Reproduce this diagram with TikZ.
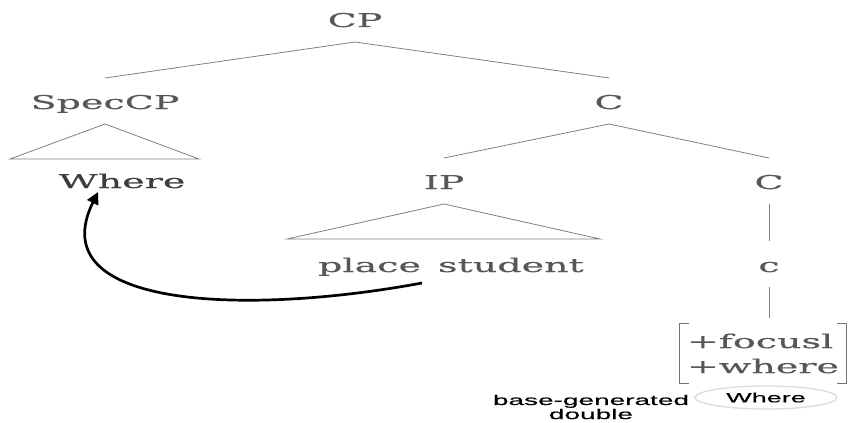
\documentclass[tikz,border=0pt]{standalone}
\usepackage{fontspec}
\setmainfont{DejaVu Serif}
\newfontfamily\treefont[FakeStretch=2.0,FakeBold=0.4]{DejaVu Serif}
\newfontfamily\notefont[FakeStretch=2.0,FakeBold=0.3]{Liberation Sans}
\usetikzlibrary{arrows.meta,shapes.geometric}

\providecommand{\colorLabel}{black!66}
\providecommand{\colorWord}{black!76}
\providecommand{\colorBranch}{black!50}
\providecommand{\colorRing}{black!14}
\providecommand{\branchthickness}{0.8pt}
\providecommand{\arrowthickness}{2.7pt}

\begin{document}
\begin{tikzpicture}[
    x=1pt, y=-1pt,
    % Label styles
    label_base/.style={
        font=\treefont\fontsize{19}{25}\selectfont,
        text=\colorLabel,
        inner sep=0pt,
        outer sep=15pt,
        text height=16pt,
        text depth=0pt,
        anchor=base
    },
    word_label/.style={label_base, text=\colorWord},
    feature_box/.style={
        font=\treefont\fontsize{19}{25}\selectfont,
        text=\colorLabel,
        align=left,
        inner sep=0pt,
        minimum width=166pt,
        minimum height=59pt
    },
    note_label/.style={
        font=\notefont\fontsize{14}{11.5}\selectfont,
        align=center,
        inner sep=0pt
    },
    % Edge styles
    branch/.style={
        line width=\branchthickness,
        draw=\colorBranch
    },
    bracket/.style={
        line width=0.7pt,
        draw=black!55
    },
    move_arrow/.style={
        line width=\arrowthickness,
        draw=black,
        -{Triangle[length=12pt,width=12pt]}
    }
]
    \useasboundingbox (0,0) rectangle (849,423);

    % ==================== TOP: CP and its daughters ====================
    \node[label_base] (cp)     at (355,27)  {CP};
    \node[label_base] (speccp) at (105,109) {SpecCP};
    \node[label_base] (cbar)   at (609,109) {C};

    \draw[branch] (cp.south) -- (speccp.north);
    \draw[branch] (cp.south) -- (cbar.south |- speccp.north);

    % ==================== MIDDLE: SpecCP triangle, IP and C ====================
    \node[word_label] (where) at (122,188) {Where};
    \node[label_base] (ip)    at (444,189) {IP};
    \node[label_base] (chead) at (769,189) {C};

    % Triangle over the moved phrase
    \draw[branch] (speccp.south) -- ++(-95,35) -- ++(189,0) -- cycle;

    \draw[branch] (cbar.south) -- (ip.north);
    \draw[branch] (cbar.south) -- (chead.north);

    % ==================== LOWER: IP triangle and the head ====================
    \node[label_base] (ps)   at (451,272) {place\hspace{0.9em}student};
    \node[label_base] (clow) at (769,272) {c};

    \draw[branch] (ip.south) -- ++(-157,35) -- ++(313,0) -- cycle;
    \draw[branch] (chead.south) -- (clow.north);

    % Feature bundle with square brackets
    \node[feature_box] (feat) at (763,353.5) {+focusl\\+where};
    \draw[branch, shorten >=6pt] (clow.south) -- (clow.south |- feat.north);
    \draw[bracket] ([xshift=9pt]feat.north west) -- (feat.north west)
        -- (feat.south west) -- ([xshift=9pt]feat.south west);
    \draw[bracket] ([xshift=-9pt]feat.north east) -- (feat.north east)
        -- (feat.south east) -- ([xshift=-9pt]feat.south east);

    % Base-generated double
    \node[ellipse, draw=\colorRing, line width=1.3pt, minimum width=142pt,
          minimum height=23pt, inner sep=0pt, note_label,
          font=\notefont\fontsize{13.5}{13}\selectfont] (dbl) at (766,397.5) {Where};
    \node[note_label] (bgd) at (591,407) {base-generated\\double};

    % ==================== MOVEMENT ARROW ====================
    \coordinate (gap)  at ([xshift=-29pt,yshift=4pt]ps.south);
    \coordinate (land) at ([xshift=-24pt,yshift=11pt]where.south);
    \draw[move_arrow] (gap) .. controls +(-172,32) and +(-58,118) .. (land);

\end{tikzpicture}
\end{document}
